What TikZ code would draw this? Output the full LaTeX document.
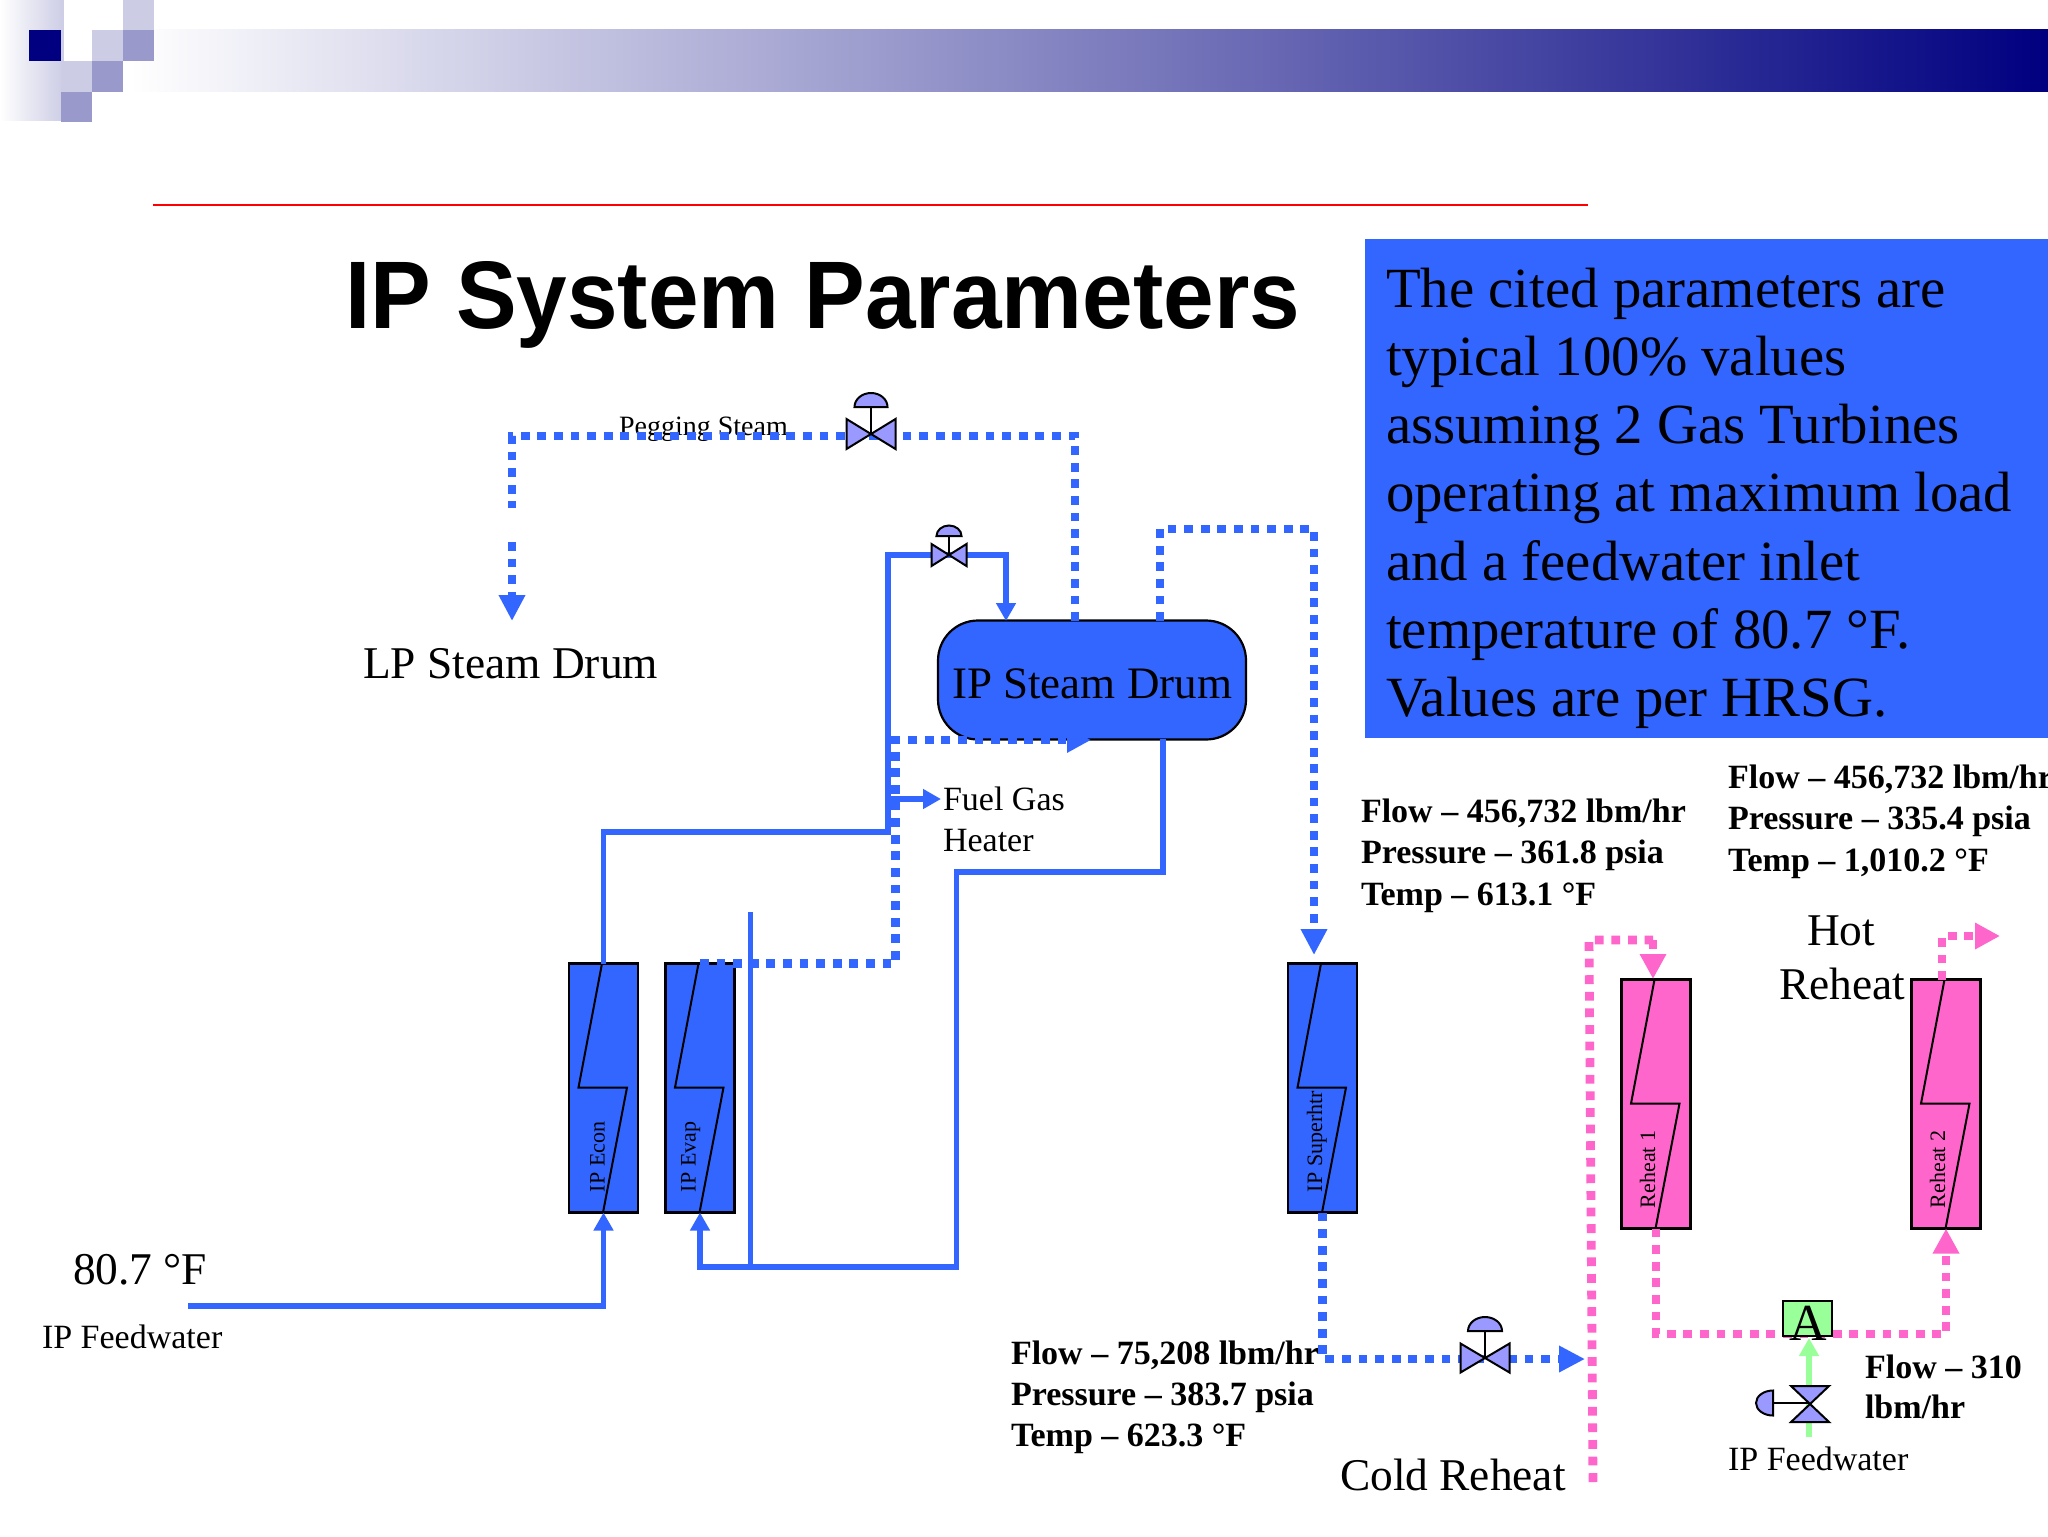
\documentclass[tikz,border=0pt]{standalone}
\usepackage{fontspec}
\setmainfont{Liberation Serif}
\newfontfamily\arialface{Liberation Sans}
\usetikzlibrary{arrows.meta,calc,shapes.geometric}
\definecolor{pipeblue}{HTML}{3366FF}
\definecolor{pipepink}{HTML}{FF66CC}
\definecolor{pipegreen}{HTML}{99FF99}
\definecolor{valvefill}{HTML}{9999FF}
\definecolor{hdrnavy}{HTML}{000080}
\definecolor{hdrlight}{HTML}{CCCCE5}
\definecolor{hdrmid}{HTML}{9999CC}
\tikzset{
  x=0.5pt,y=-0.5pt,
  txt/.style={inner sep=0pt,outer sep=0pt,anchor=base west,align=left,text=black},
  bigtxt/.style={txt,font=\fontsize{22.7pt}{26pt}\selectfont},
  midtxt/.style={txt,font=\fontsize{17pt}{20.5pt}\selectfont},
  boldtxt/.style={txt,font=\bfseries\fontsize{17pt}{20.6pt}\selectfont},
  boxlabel/.style={inner sep=0pt,outer sep=0pt,anchor=base west,rotate=90,font=\fontsize{11pt}{13pt}\selectfont},
  hxbox/.style={draw=black,line width=1.25pt,fill=#1,minimum width=34.5pt,minimum height=124.5pt,inner sep=0pt,outer sep=0pt},
  zigline/.style={draw=black,line width=1pt,line join=miter},
  solidpipe/.style={draw=pipeblue,line width=2.8pt},
  dotpipe/.style={draw=pipeblue,line width=4.4pt,dash pattern=on 4.4pt off 3.9pt},
  pinkpipe/.style={draw=pipepink,line width=4.4pt,dash pattern=on 4.4pt off 3.9pt},
  greenpipe/.style={draw=pipegreen,line width=3pt},
  bigtipblue/.style={-{Triangle[length=13pt,width=12.5pt,fill=pipeblue]}},
  bigtippink/.style={-{Triangle[length=12.5pt,width=12.5pt,fill=pipepink]}},
  smalltip/.style={-{Triangle[length=9pt,width=9.5pt]}},
  valvepart/.style={draw=black,line width=1pt,fill=valvefill},
}
\newcommand{\zigzag}[1]{%
  \draw[zigline] ($(#1.north west)+(33,0)$) -- ($(#1.north west)+(9.5,124)$) -- ($(#1.north west)+(58,124)$) -- ($(#1.north west)+(34,249)$);}
% name, cx, cy, half width, half height, stem top, dome half width, dome height
\newcommand{\hvalve}[8]{%
  \coordinate (#1) at (#2,#3);
  \draw[draw=black,line width=1pt] (#1) -- (#2,#6);
  \path[valvepart] ($(#1)+(-#4,-#5)$) -- ($(#1)+(#4,#5)$) -- ($(#1)+(#4,-#5)$) -- ($(#1)+(-#4,#5)$) -- cycle;
  \draw[draw=black,line width=1pt,fill=valvefill] ($(#2,#6)+(-#7,0)$) arc[start angle=180,end angle=360,x radius=#7,y radius=#8] -- cycle;}
\begin{document}
\begin{tikzpicture}
\useasboundingbox (0,0) rectangle (2048,1536);
\fill[white] (0,0) rectangle (2048,1536);
% header decoration
\shade[left color=white,right color=hdrnavy] (130,30) rectangle (2048,92);
\shade[left color=white,right color=hdrlight] (0,0) rectangle (64,120);
\fill[white] (64,0) rectangle (123,30);
\fill[white] (64,30) rectangle (92,61);
\fill[hdrnavy] (29,30) rectangle (61,61);
\fill[hdrlight] (123,0) rectangle (154,30);
\fill[hdrlight] (92,30) rectangle (123,61);
\fill[hdrmid] (123,30) rectangle (154,61);
\fill[hdrlight] (61,61) rectangle (92,92);
\fill[hdrmid] (92,61) rectangle (123,92);
\fill[hdrmid] (61,92) rectangle (92,122);
\draw[red,line width=1.2pt] (153,205) -- (1588,205);
% title
\node[txt,font=\arialface\bfseries\fontsize{48pt}{56pt}\selectfont] (title) at (345,328) {\scalebox{0.947}[1]{IP System Parameters}};
% info box
\node[fill=pipeblue,inner sep=0pt,outer sep=0pt,anchor=north west,minimum width=341.5pt,minimum height=249.5pt] (infobox) at (1365,239) {};
\node[txt,font=\fontsize{28.4pt}{34.15pt}\selectfont] (infotext) at (1386,716.8) {The cited parameters are\\typical 100\% values\\assuming 2 Gas Turbines\\operating at maximum load\\and a feedwater inlet\\temperature of 80.7 °F.\\Values are per HRSG.};
% equipment
\node[draw=black,line width=1.1pt,fill=pipeblue,rounded corners=20pt,minimum width=154pt,minimum height=59.5pt,inner sep=0pt,outer sep=0pt,font=\fontsize{22.5pt}{26pt}\selectfont,text height=18pt,text depth=0pt] (drum) at (1092,680) {IP Steam Drum};
\node[hxbox=pipeblue] (econ) at (603.5,1088) {};
\node[hxbox=pipeblue] (evap) at (700,1088) {};
\node[hxbox=pipeblue] (shtr) at (1322.5,1088) {};
\node[hxbox=pipepink] (rh1) at (1656,1104) {};
\node[hxbox=pipepink] (rh2) at (1946,1104) {};
\zigzag{econ}\zigzag{evap}\zigzag{shtr}\zigzag{rh1}\zigzag{rh2}
\node[boxlabel] (econlabel) at (604.5,1192) {IP Econ};
\node[boxlabel] (evaplabel) at (695.5,1192) {IP Evap};
\node[boxlabel] (shtrlabel) at (1322,1192) {IP Superhtr};
\node[boxlabel] (rh1label) at (1655,1208) {Reheat 1};
\node[boxlabel] (rh2label) at (1945,1208) {Reheat 2};
% labels
\node[bigtxt] (lpdrum) at (363,678) {LP Steam Drum};
\node[bigtxt] (temp) at (73,1284) {80.7 °F};
\node[bigtxt] (coldrh) at (1340,1490) {Cold Reheat};
\node[bigtxt] (hotlabel) at (1807,945.5) {Hot};
\node[bigtxt] (reheatlabel) at (1779,999) {Reheat};
\node[midtxt] (fuelgas) at (943,851) {Fuel Gas\\Heater};
\node[midtxt] (feedleft) at (42,1348) {IP Feedwater};
\node[midtxt] (feedright) at (1728,1470.6) {IP Feedwater};
\node[txt,font=\fontsize{14pt}{17pt}\selectfont] (pegging) at (619,435) {Pegging Steam};
\node[boldtxt] (flowA) at (1361,905) {Flow – 456,732 lbm/hr\\Pressure – 361.8 psia\\Temp – 613.1 °F};
\node[boldtxt] (flowB) at (1728,871) {Flow – 456,732 lbm/hr\\Pressure – 335.4 psia\\Temp – 1,010.2 °F};
\node[boldtxt] (flowC) at (1011,1446.5) {Flow – 75,208 lbm/hr\\Pressure – 383.7 psia\\Temp – 623.3 °F};
\node[boldtxt,font=\bfseries\fontsize{17pt}{19.8pt}\selectfont] (flowD) at (1865,1418) {Flow – 310\\lbm/hr};
% named way points
\coordinate (feedstart) at (188,1306);
\coordinate (risebase) at (888,832);
\coordinate (risetop) at (888,555);
\coordinate (drumin) at (1006,621);
\coordinate (fueltap) at (888,799);
\coordinate (fueltip) at (941,799);
\coordinate (drumout) at (1163,739);
\coordinate (retA) at (956.5,872);
\coordinate (retB) at (956.5,1267);
\coordinate (thintop) at (750.6,912);
\coordinate (thinbot) at (750.6,1267);
\coordinate (pegtap) at (1075,621);
\coordinate (pegleft) at (512,436);
\coordinate (lpgapA) at (512,508);
\coordinate (lpgapB) at (512,542);
\coordinate (lptip) at (512,621);
\coordinate (dotcorner) at (895.5,740);
\coordinate (dottip) at (1091,740);
\coordinate (shtap) at (1160,621);
\coordinate (shcorner) at (1314,529);
\coordinate (shtip) at (1314,955);
\coordinate (crtip) at (1585,1359);
\coordinate (crbottom) at (1593,1482);
\coordinate (crtop) at (1589,940);
\coordinate (rhturn) at (1653,940);
\coordinate (rh1tip) at (1653,979);
\coordinate (rhmid) at (1946,1334);
\coordinate (rh2top) at (1942,980);
\coordinate (rh2tip) at (2000,936);
% solid blue pipes
\draw[solidpipe,smalltip] (feedstart) -| (econ.south);
\draw[solidpipe,smalltip] (econ.north) |- (risebase) -- (risetop) -| (drumin);
\draw[solidpipe,smalltip] (fueltap) -- (fueltip);
\draw[solidpipe,smalltip] (drumout) |- (retA) |- (retB) -| (evap.south);
\draw[solidpipe,line width=2.3pt] (thintop) -- (thinbot);
% dotted blue pipes
\draw[dotpipe] (pegtap) |- (pegleft) -- (lpgapA);
\draw[dotpipe,bigtipblue] (lpgapB) -- (lptip);
\draw[dotpipe,-{Triangle[length=12pt,width=12pt,fill=pipeblue]}] (evap.north) -| (dotcorner) -- (dottip);
\draw[dotpipe,bigtipblue] (shtap) |- (shcorner) -- (shtip);
\draw[dotpipe,bigtipblue] (shtr.south) |- (crtip);
% pink pipes
\draw[pinkpipe] (crbottom) -- (crtop) -- (rhturn);
\draw[pinkpipe,bigtippink] (rhturn) -- (rh1tip);
\draw[pinkpipe,bigtippink] (rh1.south) |- (rhmid) -- (rh2.south);
\draw[pinkpipe,bigtippink] (rh2top) |- (rh2tip);
% attemperator
\node[draw=black,line width=1pt,fill=pipegreen,anchor=north west,minimum width=24.5pt,minimum height=17.5pt,inner sep=0pt,outer sep=0pt] (abox) at (1783,1301) {};
\coordinate (greenstart) at (1809,1437);
\draw[greenpipe,smalltip] (greenstart) -- (1809,1338);
\node[inner sep=0pt,anchor=base,font=\fontsize{26pt}{30pt}\selectfont] (atext) at (1808,1340) {A};
% valves
\hvalve{pegvalve}{871}{434}{24.5}{15}{407}{16.5}{14}
\hvalve{spvalve}{949}{555}{17.5}{11}{536}{12.5}{10.5}
\hvalve{crvalve}{1485}{1358}{24.5}{14.5}{1331}{17}{14}
% feedwater valve on its side
\coordinate (fwvalve) at (1810,1403);
\draw[black,line width=1pt] (fwvalve) -- (1773,1403);
\path[valvepart] (1791,1386) -- (1829,1386) -- (1791,1422) -- (1829,1422) -- cycle;
\draw[draw=black,line width=1pt,fill=valvefill] (1773,1390.5) arc[start angle=270,end angle=90,x radius=17,y radius=12.5] -- cycle;
\end{tikzpicture}
\end{document}
